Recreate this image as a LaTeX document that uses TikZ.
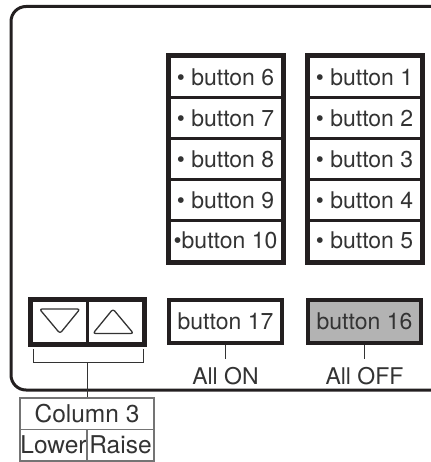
\documentclass[tikz,border=0pt]{standalone}
\usepackage{fontspec}
\setmainfont{TeX Gyre Heros}
\usepackage{xcolor}
\usetikzlibrary{positioning}
\definecolor{PanelInk}{HTML}{231F20}
\definecolor{TextInk}{HTML}{333333}
\definecolor{KeyGray}{HTML}{B3B3B3}
\definecolor{TagGray}{HTML}{747474}

\begin{document}
\begin{tikzpicture}[x=1pt,y=-1pt,every node/.style={text=TextInk,font=\fontsize{23}{26}\selectfont},
  key/.style={draw=PanelInk,line width=3pt,minimum width=113pt,minimum height=40.8pt,inner sep=0pt},
  frame/.style={draw=PanelInk,line width=4pt},
  tag/.style={draw=TagGray,line width=1.5pt,inner sep=0pt,minimum height=31.5pt,font=\fontsize{24.5}{28}\selectfont},
  tick/.style={draw=TextInk,line width=1pt},
  tri/.style={draw=TextInk,line width=1.3pt,rounded corners=2.5pt,line join=round}]
\useasboundingbox (0,0) rectangle (430,462);
\draw[PanelInk,line width=3pt,rounded corners=15pt] (432,6.5)--(11,6.5)--(11,390)--(432,390);
\foreach \i in {1,...,5}
  \node[key] (b\i) at (364.5,{57+40.8*(\i-0.5)}) {• button \i};
\foreach \i/\t in {6/• button 6,7/• button 7,8/• button 8,9/• button 9,10/•button 10}
  \node[key] (b\i) at (225.5,{57+40.8*(\i-5.5)}) {\t};
\draw[frame] (b6.north west) rectangle (b10.south east);
\draw[frame] (b1.north west) rectangle (b5.south east);
\node[key,minimum width=56pt,minimum height=43pt] (down) at (59,321.5) {};
\node[key,minimum width=56pt,minimum height=43pt] (up) at (115,321.5) {};
\draw[frame] (down.north west) rectangle (up.south east);
\draw[tri] (39.5,309)--(80,309)--(60,333.5)--cycle;
\draw[tri] (93,333.5)--(133.5,333.5)--(113,309)--cycle;
\node[key,line width=4pt,minimum height=43pt] (b17) at (225.5,321.5) {button 17};
\node[key,line width=4pt,minimum height=43pt,fill=KeyGray] (b16) at (364.5,321.5) {button 16};
\node[inner sep=0pt,below=22pt of b17] (allon) {All ON};
\node[inner sep=0pt,below=22pt of b16] (alloff) {All OFF};
\draw[tick,shorten >=8pt] (b17) -- (allon);
\draw[tick,shorten >=8pt] (b16) -- (alloff);
\coordinate (brL) at (33,349);\coordinate (brR) at (143,349);\coordinate (brM) at (87,362);
\draw[tick] (brL)--(33,362)--(143,362)--(brR);
\node[tag,minimum width=134pt] (col3) at (87,413.5) {Column 3};
\node[tag,minimum width=67pt] (lower) at (53.5,445) {Lower};
\node[tag,minimum width=67pt] (raise) at (120.5,445) {Raise};
\draw[tick] (brM) -- (col3);
\end{tikzpicture}
\end{document}
